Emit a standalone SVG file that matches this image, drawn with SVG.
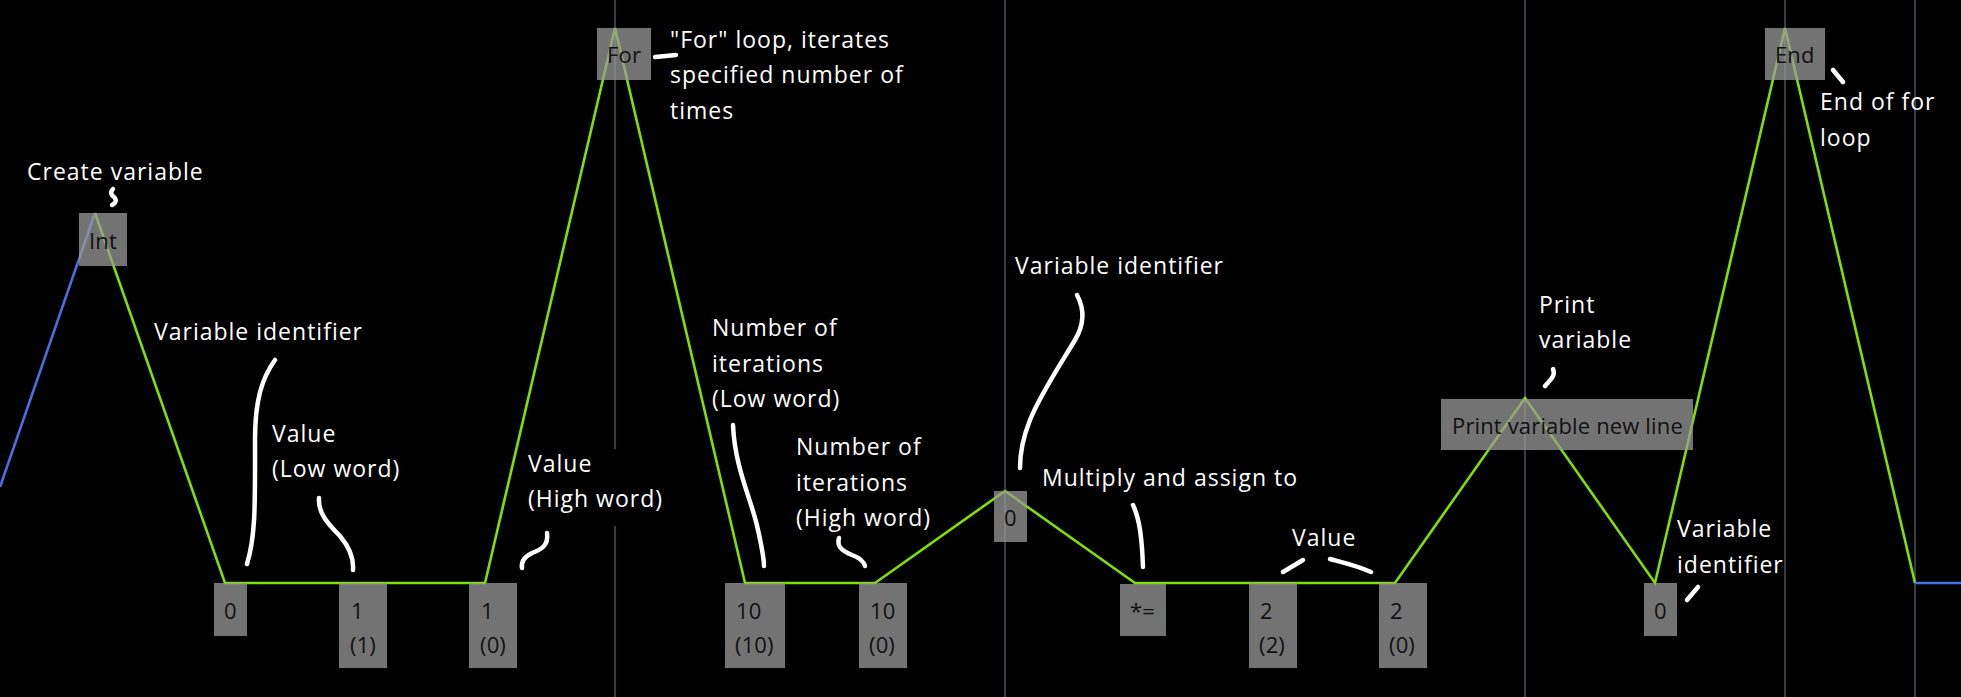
<svg xmlns="http://www.w3.org/2000/svg" width="1961" height="697" viewBox="0 0 1961 697">
<style>
.bg{fill:#000}
.grid{stroke:#4b525c;stroke-width:1.5;fill:none}
.wire{stroke:#80e000;stroke-width:2.6;fill:none;stroke-linejoin:miter}
.wire-b{stroke:#4a6fe0;stroke-width:2.6;fill:none}
.box{fill:#999999;fill-opacity:0.75}
.bt{font-family:"Open Sans","Noto Sans","DejaVu Sans",sans-serif;font-size:22px;letter-spacing:0.15px;fill:#111111}
.lbl{font-family:"Open Sans","Noto Sans","DejaVu Sans",sans-serif;font-size:23px;letter-spacing:1px;fill:#ffffff}
.mark{stroke:#ffffff;stroke-width:4.5;fill:none;stroke-linecap:round;stroke-linejoin:round}
</style>
<rect class="bg" x="0" y="0" width="1961" height="697"/>
<g id="grid">
<line class="grid" x1="615" y1="0" x2="615" y2="697"/>
<line class="grid" x1="1005" y1="0" x2="1005" y2="697"/>
<line class="grid" x1="1525" y1="0" x2="1525" y2="697"/>
<line class="grid" x1="1785" y1="0" x2="1785" y2="697"/>
<line class="grid" x1="1915" y1="0" x2="1915" y2="697"/>
</g>
<rect class="bg" x="524" y="449" width="146" height="77"/>
<g id="connectors">
<polyline class="wire-b" points="0,487 95,213"/>
<polyline class="wire" points="95,213 225,583 485,583 615,28 745,583 875,583 1005,491 1135,583 1395,583 1525,398 1655,583 1785,28 1915,583"/>
<polyline class="wire-b" points="1915,583 1961,583"/>
</g>
<g id="n-int"><rect class="box" x="79" y="213" width="48" height="53"/><text class="bt" x="89" y="249">Int</text></g>
<g id="n-0a"><rect class="box" x="214" y="583" width="33" height="53"/><text class="bt" x="224" y="619">0</text></g>
<g id="n-1a"><rect class="box" x="339" y="583" width="48" height="85"/><text class="bt" x="351" y="619">1</text><text class="bt" x="350" y="653">(1)</text></g>
<g id="n-1b"><rect class="box" x="469" y="583" width="48" height="85"/><text class="bt" x="481" y="619">1</text><text class="bt" x="480" y="653">(0)</text></g>
<g id="n-for"><rect class="box" x="597" y="28" width="54" height="52"/><text class="bt" x="607" y="63">For</text></g>
<g id="n-10a"><rect class="box" x="725" y="583" width="60" height="85"/><text class="bt" x="736" y="619">10</text><text class="bt" x="735" y="653">(10)</text></g>
<g id="n-10b"><rect class="box" x="859" y="583" width="48" height="85"/><text class="bt" x="870" y="619">10</text><text class="bt" x="869" y="653">(0)</text></g>
<g id="n-0b"><rect class="box" x="994" y="491" width="33" height="51"/><text class="bt" x="1004" y="526">0</text></g>
<g id="n-mul"><rect class="box" x="1120" y="584" width="46" height="52"/><text class="bt" x="1130" y="619">*=</text></g>
<g id="n-2a"><rect class="box" x="1249" y="583" width="48" height="85"/><text class="bt" x="1260" y="619">2</text><text class="bt" x="1259" y="653">(2)</text></g>
<g id="n-2b"><rect class="box" x="1379" y="583" width="48" height="85"/><text class="bt" x="1390" y="619">2</text><text class="bt" x="1389" y="653">(0)</text></g>
<g id="n-print"><rect class="box" x="1441" y="399" width="252" height="51"/><text class="bt" x="1452" y="434">Print variable new line</text></g>
<g id="n-0c"><rect class="box" x="1644" y="583" width="33" height="53"/><text class="bt" x="1654" y="619">0</text></g>
<g id="n-end"><rect class="box" x="1765" y="28" width="60" height="52"/><text class="bt" x="1775" y="63">End</text></g>
<g id="labels">
<text class="lbl" x="27" y="180">Create variable</text>
<text class="lbl" x="154" y="340">Variable identifier</text>
<text class="lbl" x="272" y="442">Value</text>
<text class="lbl" x="272" y="477">(Low word)</text>
<text class="lbl" x="528" y="472">Value</text>
<text class="lbl" x="528" y="507">(High word)</text>
<text class="lbl" x="670" y="48">"For" loop, iterates</text>
<text class="lbl" x="670" y="83">specified number of</text>
<text class="lbl" x="670" y="119">times</text>
<text class="lbl" x="712" y="336">Number of</text>
<text class="lbl" x="712" y="372">iterations</text>
<text class="lbl" x="712" y="407">(Low word)</text>
<text class="lbl" x="796" y="455">Number of</text>
<text class="lbl" x="796" y="491">iterations</text>
<text class="lbl" x="796" y="526">(High word)</text>
<text class="lbl" x="1015" y="274">Variable identifier</text>
<text class="lbl" x="1042" y="486">Multiply and assign to</text>
<text class="lbl" x="1292" y="546">Value</text>
<text class="lbl" x="1539" y="313">Print</text>
<text class="lbl" x="1539" y="348">variable</text>
<text class="lbl" x="1677" y="537">Variable</text>
<text class="lbl" x="1677" y="573">identifier</text>
<text class="lbl" x="1820" y="110">End of for</text>
<text class="lbl" x="1820" y="146">loop</text>
</g>
<g id="marks">
<path class="mark" d="M113,189 C110,192 111,195 114,197 C117,200 116,203 112,205"/>
<path class="mark" d="M275,360 C262,378 255,400 255,440 C255,500 256,535 247,564"/>
<path class="mark" d="M319,498 C318,512 326,522 340,536 C350,548 354,558 353,570"/>
<path class="mark" d="M547,533 C549,546 540,550 532,553 C524,557 521,562 522,568"/>
<path class="mark" d="M655,57 L666,56 L676,55"/>
<path class="mark" d="M733,425 C735,470 752,500 758,530 C762,548 764,558 764,566"/>
<path class="mark" d="M839,538 C836,548 845,552 852,555 C860,558 864,562 865,566"/>
<path class="mark" d="M1077,295 C1085,310 1084,325 1075,340 C1060,365 1040,395 1030,420 C1022,440 1020,455 1020,468"/>
<path class="mark" d="M1133,505 C1140,520 1142,540 1143,567"/>
<path class="mark" d="M1283,572 L1303,560"/>
<path class="mark" d="M1330,559 C1345,563 1358,566 1371,572"/>
<path class="mark" d="M1553,369 C1556,376 1550,380 1545,386"/>
<path class="mark" d="M1698,587 L1687,600"/>
<path class="mark" d="M1833,70 L1843,82"/>
</g>
</svg>
